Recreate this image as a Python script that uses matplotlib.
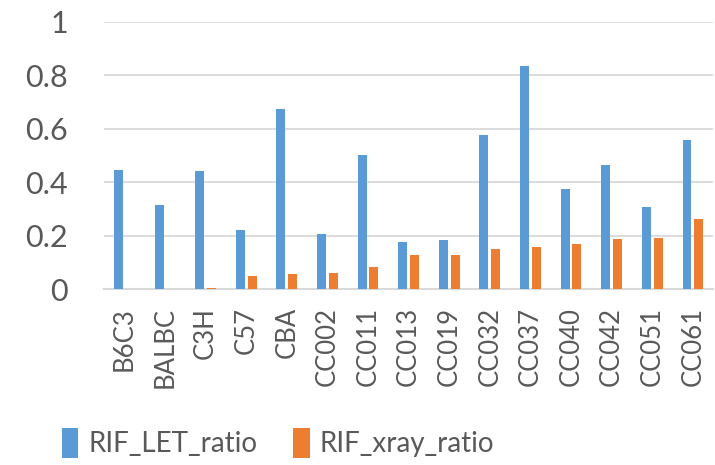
import numpy as np
import matplotlib.pyplot as plt

strains = ['B6C3', 'BALBC', 'C3H', 'C57', 'CBA', 'CC002', 'CC011', 'CC013',
           'CC019', 'CC032', 'CC037', 'CC040', 'CC042', 'CC051', 'CC061']
rif_let_ratio = [0.447, 0.314, 0.441, 0.221, 0.676, 0.206, 0.502, 0.177,
                 0.183, 0.576, 0.834, 0.374, 0.464, 0.307, 0.557]
rif_xray_ratio = [0.0, 0.0, 0.005, 0.050, 0.058, 0.061, 0.083, 0.127,
                  0.127, 0.151, 0.157, 0.169, 0.189, 0.193, 0.262]

plt.rcParams['font.family'] = ['Lato', 'DejaVu Sans']
txt = '#595959'

fig = plt.figure(figsize=(7.15, 4.65), dpi=100)
ax = fig.add_axes([0.1455, 0.378, 0.852, 0.5747])

x = np.arange(len(strains))
w = 0.22
ax.bar(x - 0.145, rif_let_ratio, w, color='#5B9BD5', label='RIF_LET_ratio', zorder=3)
ax.bar(x + 0.145, rif_xray_ratio, w, color='#ED7D31', label='RIF_xray_ratio', zorder=3)

ax.set_xlim(-0.5, len(strains) - 0.5)
ax.set_ylim(0, 1)
ax.set_yticks([0, 0.2, 0.4, 0.6, 0.8, 1])
ax.set_yticklabels(['0', '0.2', '0.4', '0.6', '0.8', '1'])
ax.set_xticks(x)
ax.set_xticklabels(strains, rotation=90)
ax.grid(axis='y', color='#D9D9D9', linewidth=1.3, zorder=0)
for s in ['top', 'right', 'left']:
    ax.spines[s].set_visible(False)
ax.spines['bottom'].set_color('#D9D9D9')
ax.spines['bottom'].set_linewidth(1.5)
ax.tick_params(axis='y', length=0, pad=26, labelsize=22, labelcolor=txt)
ax.tick_params(axis='x', length=0, pad=13, labelsize=18.5, labelcolor=txt)

fig.legend(loc='center', bbox_to_anchor=(278 / 715, 1 - 443 / 465), ncol=2,
           frameon=False, fontsize=20, labelcolor=txt, handlelength=0.6,
           handleheight=1.3, handletextpad=0.35, columnspacing=1.3)

fig.savefig('out.png', dpi=100)
